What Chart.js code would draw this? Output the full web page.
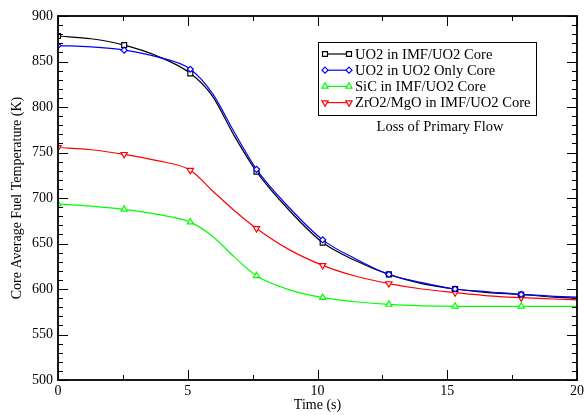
<!DOCTYPE html>
<html>
<head>
<meta charset="utf-8">
<script src="https://cdn.jsdelivr.net/npm/chart.js@4/dist/chart.umd.min.js"></script>
<style>
  html, body { margin: 0; padding: 0; background: #fff; }
  #wrap { width: 587px; height: 415px; }
</style>
</head>
<body>
<div id="wrap"><canvas id="temp-chart"></canvas></div>
<script>
// time points (s), markers only at every 2.55 s
const time = [0, 1.275, 2.55, 3.825, 5.1, 5.95, 6.8, 7.65, 8.925, 10.2, 11.475, 12.75, 14.025, 15.3, 16.575, 17.85, 19.125, 20];
const markerTimes = [0, 2.55, 5.1, 7.65, 10.2, 12.75, 15.3, 17.85];

const uo2Imf  = [878, 875, 868, 856, 837, 812, 768, 729, 686, 651, 631, 616, 606, 600, 596, 594, 591, 590];
const uo2Only = [867.5, 866, 862.5, 855, 841.5, 815, 772, 731.5, 689, 654, 633, 616, 607, 600, 597, 594, 592, 591];
const sicImf  = [693.5, 691, 687.5, 682, 673.5, 658, 635, 614.5, 599, 590.5, 586, 583, 581.5, 581, 581, 581, 581, 581];
const zrImf   = [755.5, 753, 748, 741, 730.5, 708, 686, 666.5, 643, 626, 614, 606, 600, 596, 592.5, 590.5, 589, 588];

const seriesNames = ['UO2 in IMF/UO2 Core', 'UO2 in UO2 Only Core', 'SiC in IMF/UO2 Core', 'ZrO2/MgO in IMF/UO2 Core'];
const xTicks = [0, 5, 10, 15, 20];
const yTicks = [500, 550, 600, 650, 700, 750, 800, 850, 900];
const note = 'Loss of Primary Flow';

Chart.defaults.font.family = '"Liberation Serif", "Times New Roman", serif';
Chart.defaults.font.size = 14;
Chart.defaults.color = '#000';

function pts(vals) {
  return vals.map((v, i) => ({ x: time[i], y: v }));
}
function markR(r) {
  return c => markerTimes.includes(time[c.dataIndex]) ? r : 0;
}

function makeSet(label, vals, color, style, r, rot, order) {
  return {
    label: label,
    data: pts(vals),
    borderColor: color,
    backgroundColor: '#fff',
    pointBorderColor: color,
    pointBackgroundColor: '#fff',
    borderWidth: 1.2,
    pointBorderWidth: 1.2,
    pointStyle: style,
    pointRotation: rot,
    pointRadius: markR(r),
    pointHoverRadius: markR(r),
    cubicInterpolationMode: 'monotone',
    order: order,
    mk: { style: style, r: r, rot: rot }
  };
}

function drawMarker(ctx, style, r, rot, x, y, color) {
  ctx.save();
  ctx.translate(x, y);
  ctx.rotate(rot * Math.PI / 180);
  ctx.beginPath();
  if (style === 'rect') {
    const s = r * Math.SQRT1_2;
    ctx.rect(-s, -s, 2 * s, 2 * s);
  } else if (style === 'rectRot') {
    ctx.moveTo(-r, 0); ctx.lineTo(0, -r); ctx.lineTo(r, 0); ctx.lineTo(0, r); ctx.closePath();
  } else {
    for (let k = 0; k < 3; k++) {
      const a = -Math.PI / 2 + k * 2 * Math.PI / 3;
      if (k === 0) ctx.moveTo(Math.cos(a) * r, Math.sin(a) * r);
      else ctx.lineTo(Math.cos(a) * r, Math.sin(a) * r);
    }
    ctx.closePath();
  }
  ctx.fillStyle = '#fff';
  ctx.fill();
  ctx.strokeStyle = color;
  ctx.lineWidth = 1.2;
  ctx.stroke();
  ctx.restore();
}

const frame = {
  id: 'frame',
  afterDatasetsDraw(chart) {
    const { ctx, chartArea: a, scales: { x, y } } = chart;
    ctx.save();
    ctx.strokeStyle = '#000';
    ctx.lineWidth = 1;
    const seg = (x1, y1, x2, y2) => { ctx.beginPath(); ctx.moveTo(x1, y1); ctx.lineTo(x2, y2); ctx.stroke(); };
    for (let v = 500; v <= 900; v += 10) {
      const len = v % 50 === 0 ? 10 : 5;
      const py = Math.round(y.getPixelForValue(v)) + 0.5;
      seg(a.left, py, a.left + len, py);
      seg(a.right, py, a.right - len, py);
    }
    for (let t = 0; t <= 20; t += 2.5) {
      const len = t % 5 === 0 ? 10 : 5;
      const px = Math.round(x.getPixelForValue(t)) + 0.5;
      seg(px, a.bottom, px, a.bottom - len);
      seg(px, a.top, px, a.top + len);
    }
    ctx.lineWidth = 1.8;
    ctx.strokeRect(a.left, a.top, a.right - a.left, a.bottom - a.top);

    // legend box
    ctx.lineWidth = 1;
    ctx.strokeRect(318.5, 42.5, 218, 73);
    ctx.font = '14.6px "Liberation Serif", serif';
    ctx.textBaseline = 'middle';
    ctx.textAlign = 'left';
    chart.data.datasets.forEach((ds, i) => {
      const ly = 54 + i * 16.2;
      ctx.strokeStyle = ds.borderColor;
      ctx.lineWidth = 1.2;
      seg(325, ly, 349, ly);
      drawMarker(ctx, ds.mk.style, ds.mk.r, ds.mk.rot, 325, ly, ds.borderColor);
      drawMarker(ctx, ds.mk.style, ds.mk.r, ds.mk.rot, 349, ly, ds.borderColor);
      ctx.fillStyle = '#000';
      ctx.fillText(ds.label, 355, ly + 1);
    });
    ctx.textAlign = 'center';
    ctx.font = '14.5px "Liberation Serif", serif';
    ctx.fillText(note, 440, 127);
    ctx.restore();
  }
};

const ctx = document.getElementById('temp-chart').getContext('2d');
const chart = new Chart(ctx, {
  type: 'line',
  data: {
    datasets: [
      makeSet(seriesNames[0], uo2Imf, '#000000', 'rect', 3.5, 0, 1),
      makeSet(seriesNames[1], uo2Only, '#0000ff', 'rectRot', 3, 0, 0),
      makeSet(seriesNames[2], sicImf, '#00ff00', 'triangle', 3.6, 0, 3),
      makeSet(seriesNames[3], zrImf, '#ff0000', 'triangle', 3.6, 180, 2)
    ]
  },
  options: {
    responsive: true,
    maintainAspectRatio: false,
    animation: false,
    layout: { padding: { left: 0, top: 16, right: 10, bottom: 0 } },
    plugins: { legend: { display: false }, tooltip: { enabled: false } },
    scales: {
      x: {
        type: 'linear',
        min: 0,
        max: 20,
        afterFit: s => { s.height = 35; },
        afterBuildTicks: s => { s.ticks = xTicks.map(v => ({ value: v })); },
        grid: { display: false, drawTicks: false },
        border: { display: false },
        ticks: { padding: 3, maxRotation: 0, font: { size: 14 } },
        title: { display: true, text: 'Time (s)', font: { size: 14 }, padding: { top: 0, bottom: 1 } }
      },
      y: {
        min: 500,
        max: 900,
        afterFit: s => { s.width = 58; },
        afterBuildTicks: s => { s.ticks = yTicks.map(v => ({ value: v })); },
        grid: { display: false, drawTicks: false },
        border: { display: false },
        ticks: { padding: 5, font: { size: 14 } },
        title: { display: true, text: 'Core Average Fuel Temperature (K)', font: { size: 14 }, padding: { top: 9, bottom: 0 } }
      }
    }
  },
  plugins: [frame]
});
</script>
</body>
</html>
